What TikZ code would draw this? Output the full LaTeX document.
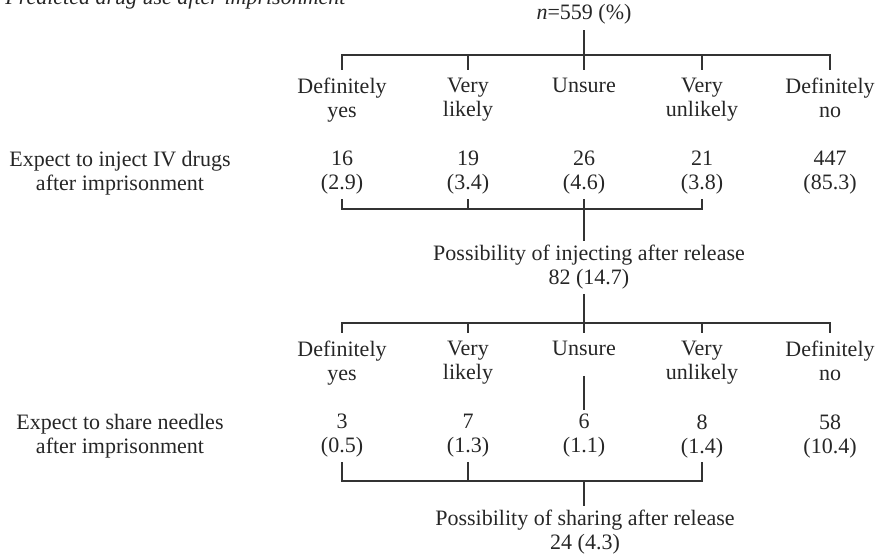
\documentclass[tikz,border=0pt]{standalone}
\usepackage{fontspec}
\setmainfont{Liberation Serif}
\begin{document}
\begin{tikzpicture}[x=0.5pt, y=-0.5pt,
    every node/.style={text=black!85, font=\fontsize{11}{12}\selectfont},
    cat/.style={align=center, anchor=north, inner sep=4pt},
    num/.style={align=center, anchor=north, inner sep=2pt},
    link/.style={draw=black!80, line width=0.7pt}]
    \useasboundingbox (0,0) rectangle (878,560);

    \node[anchor=base west, inner sep=0pt, font=\fontsize{11}{12}\selectfont\itshape] (title) at (5,5) {Predicted drug use after imprisonment};
    \node[anchor=base, inner sep=2.5pt] (total) at (584,20) {{\itshape n}=559 (\%)};

    % first question
    \node[cat] (c1a) at (342,70) {Definitely\\yes};
    \node[cat] (c2a) at (468,70) {Very\\likely};
    \node[cat] (c3a) at (584,70) {Unsure};
    \node[cat] (c4a) at (702,70) {Very\\unlikely};
    \node[cat] (c5a) at (830,70) {Definitely\\no};

    \node[num] (inject) at (120,147) {Expect to inject IV drugs\\after imprisonment};
    \node[num] (v1) at (342,147) {16\\(2.9)};
    \node[num] (v2) at (468,147) {19\\(3.4)};
    \node[num] (v3) at (584,147) {26\\(4.6)};
    \node[num] (v4) at (702,147) {21\\(3.8)};
    \node[num] (v5) at (830,147) {447\\(85.3)};

    \node[num] (poss1) at (589,241) {Possibility of injecting after release\\82 (14.7)};

    % second question
    \node[cat] (c1b) at (342,333) {Definitely\\yes};
    \node[cat] (c2b) at (468,333) {Very\\likely};
    \node[cat] (c3b) at (584,333) {Unsure};
    \node[cat] (c4b) at (702,333) {Very\\unlikely};
    \node[cat] (c5b) at (830,333) {Definitely\\no};

    \node[num] (share) at (120,410) {Expect to share needles\\after imprisonment};
    \node[num] (w1) at (342,410) {3\\(0.5)};
    \node[num] (w2) at (468,410) {7\\(1.3)};
    \node[num] (w3) at (584,410) {6\\(1.1)};
    \node[num] (w4) at (702,410) {8\\(1.4)};
    \node[num] (w5) at (830,410) {58\\(10.4)};

    \node[num] (poss2) at (585,506) {Possibility of sharing after release\\24 (4.3)};

    \coordinate (s1) at (584,55);
    \coordinate (j1) at (584,209);
    \coordinate (s2) at (584,323);
    \coordinate (u2) at (584,376);
    \coordinate (j2) at (584,481);

    % splits
    \draw[link] (total.south) -- (c3a.north);
    \draw[link] (c1a.north) -- (c1a.north |- s1) -- (c5a.north |- s1) -- (c5a.north);
    \draw[link] (c2a.north) -- (c2a.north |- s1);
    \draw[link] (c4a.north) -- (c4a.north |- s1);

    \draw[link] (c3b.north |- poss1.south) -- (c3b.north);
    \draw[link] (c1b.north) -- (c1b.north |- s2) -- (c5b.north |- s2) -- (c5b.north);
    \draw[link] (c2b.north) -- (c2b.north |- s2);
    \draw[link] (c4b.north) -- (c4b.north |- s2);
    \draw[link] (u2) -- (w3.north);

    % brackets
    \draw[link] (v1.south) -- (v1.south |- j1) -- (v4.south |- j1) -- (v4.south);
    \draw[link] (v2.south) -- (v2.south |- j1);
    \draw[link] (v3.south) -- (v3.south |- poss1.north);

    \draw[link] (w1.south) -- (w1.south |- j2) -- (w4.south |- j2) -- (w4.south);
    \draw[link] (w2.south) -- (w2.south |- j2);
    \draw[link] (j2) -- (j2 |- poss2.north);
\end{tikzpicture}
\end{document}
